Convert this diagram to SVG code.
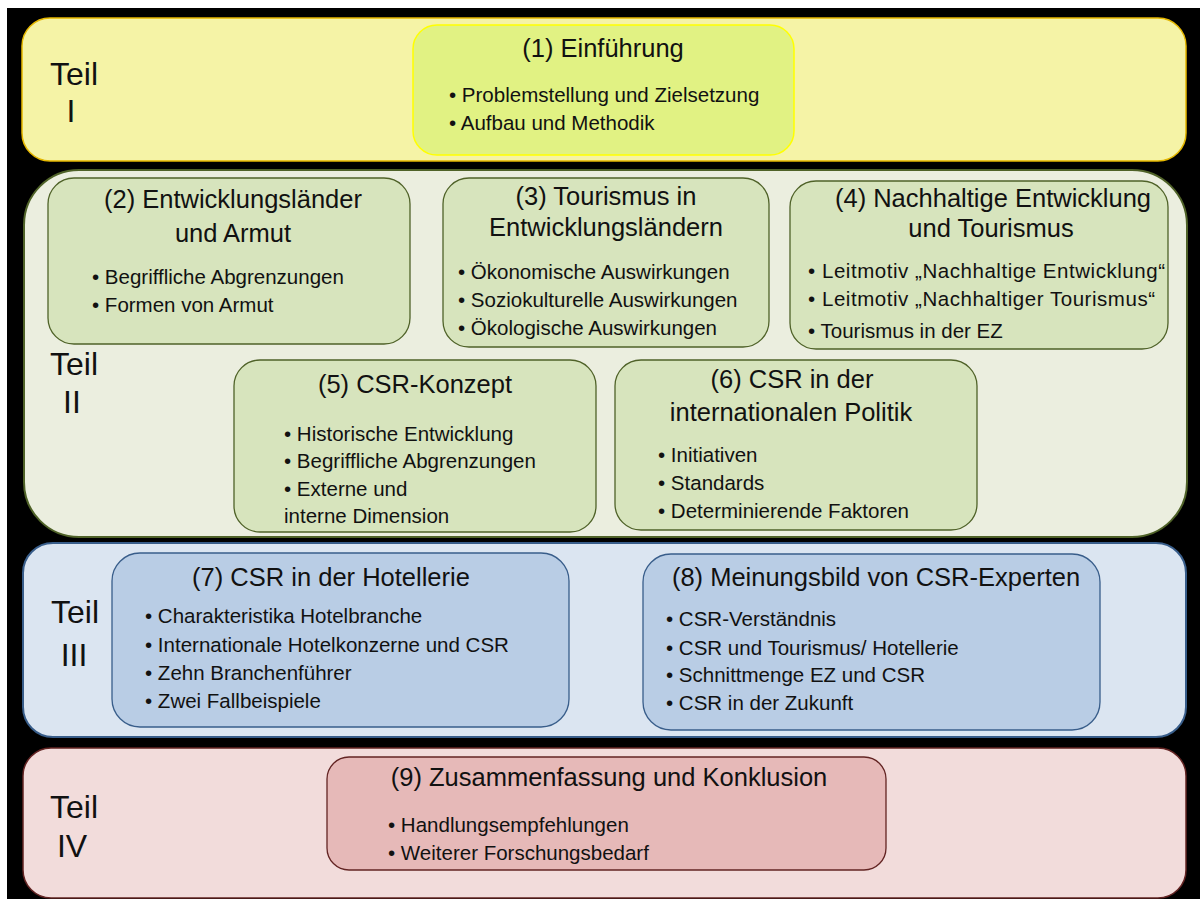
<svg xmlns="http://www.w3.org/2000/svg" width="1200" height="899" viewBox="0 0 1200 899">
<style>
.t{font-family:"Liberation Sans Narrow","Liberation Sans",Arial,sans-serif;fill:#111}
.ti{font-size:25.5px;text-anchor:middle}
.b{font-size:20.5px}
.teil{font-family:"Liberation Sans","DejaVu Sans",sans-serif;font-size:32px;fill:#111;text-anchor:middle}
</style>
<rect x="0" y="0" width="1200" height="899" fill="#ffffff"/>
<rect x="7" y="8" width="1193" height="891" fill="#000000"/>
<g id="band1">
<rect x="22" y="18" width="1164" height="143" rx="28" fill="#f5f3a6" stroke="#e6b800" stroke-width="1.5"/>
<text class="teil" x="74" y="85">Teil</text><text class="teil" x="71" y="122">I</text>
</g>
<g id="band2">
<rect x="24" y="170" width="1163" height="367" rx="55" fill="#ebeedf" stroke="#4f6228" stroke-width="2"/>
<text class="teil" x="74" y="375">Teil</text><text class="teil" x="72" y="413">II</text>
</g>
<g id="band3">
<rect x="23" y="543" width="1163" height="194" rx="30" fill="#dbe5f1" stroke="#385d8a" stroke-width="2"/>
<text class="teil" x="75" y="623">Teil</text><text class="teil" x="74" y="666">III</text>
</g>
<g id="band4">
<rect x="23" y="748" width="1163" height="150" rx="28" fill="#f2dcdb" stroke="#632423" stroke-width="1.5"/>
<text class="teil" x="74" y="818">Teil</text><text class="teil" x="72" y="857">IV</text>
</g>
<g id="n1">
<rect x="413" y="25" width="381" height="130" rx="24" fill="#e1f283" stroke="#ffff00" stroke-width="1.5"/>
<text class="t ti" x="603" y="57">(1) Einführung</text>
<text class="t b" x="449" y="102">• Problemstellung und Zielsetzung</text>
<text class="t b" x="449" y="130">• Aufbau und Methodik</text>
</g>
<g id="n2">
<rect x="48" y="178" width="362" height="166" rx="26" fill="#d7e4bd" stroke="#4f6228" stroke-width="1.3"/>
<text class="t ti" x="233" y="208">(2) Entwicklungsländer</text>
<text class="t ti" x="233" y="242">und Armut</text>
<text class="t b" x="92" y="284">• Begriffliche Abgrenzungen</text>
<text class="t b" x="92" y="312">• Formen von Armut</text>
</g>
<g id="n3">
<rect x="443" y="178" width="326" height="169" rx="26" fill="#d7e4bd" stroke="#4f6228" stroke-width="1.3"/>
<text class="t ti" x="606" y="205">(3) Tourismus in</text>
<text class="t ti" x="606" y="236">Entwicklungsländern</text>
<text class="t b" x="458" y="279">• Ökonomische Auswirkungen</text>
<text class="t b" x="458" y="307">• Soziokulturelle Auswirkungen</text>
<text class="t b" x="458" y="335">• Ökologische Auswirkungen</text>
</g>
<g id="n4">
<rect x="790" y="181" width="378" height="168" rx="26" fill="#d7e4bd" stroke="#4f6228" stroke-width="1.3"/>
<text class="t ti" x="993" y="207">(4) Nachhaltige Entwicklung</text>
<text class="t ti" x="991" y="237">und Tourismus</text>
<text class="t b" x="808" y="278" textLength="357" lengthAdjust="spacing">• Leitmotiv „Nachhaltige Entwicklung“</text>
<text class="t b" x="808" y="306" textLength="347" lengthAdjust="spacing">• Leitmotiv „Nachhaltiger Tourismus“</text>
<text class="t b" x="808" y="338">• Tourismus in der EZ</text>
</g>
<g id="n5">
<rect x="234" y="360" width="362" height="172" rx="26" fill="#d7e4bd" stroke="#4f6228" stroke-width="1.3"/>
<text class="t ti" x="415" y="393">(5) CSR-Konzept</text>
<text class="t b" x="284" y="441">• Historische Entwicklung</text>
<text class="t b" x="284" y="468">• Begriffliche Abgrenzungen</text>
<text class="t b" x="284" y="496">• Externe und</text>
<text class="t b" x="284" y="523">interne Dimension</text>
</g>
<g id="n6">
<rect x="615" y="360" width="362" height="170" rx="26" fill="#d7e4bd" stroke="#4f6228" stroke-width="1.3"/>
<text class="t ti" x="792" y="388">(6) CSR in der</text>
<text class="t ti" x="791" y="421">internationalen Politik</text>
<text class="t b" x="658" y="462">• Initiativen</text>
<text class="t b" x="658" y="490">• Standards</text>
<text class="t b" x="658" y="518">• Determinierende Faktoren</text>
</g>
<g id="n7">
<rect x="112" y="553" width="457" height="174" rx="28" fill="#b9cde5" stroke="#385d8a" stroke-width="1.3"/>
<text class="t ti" x="331" y="586">(7) CSR in der Hotellerie</text>
<text class="t b" x="145" y="623">• Charakteristika Hotelbranche</text>
<text class="t b" x="145" y="652">• Internationale Hotelkonzerne und CSR</text>
<text class="t b" x="145" y="680">• Zehn Branchenführer</text>
<text class="t b" x="145" y="708">• Zwei Fallbeispiele</text>
</g>
<g id="n8">
<rect x="643" y="554" width="457" height="176" rx="28" fill="#b9cde5" stroke="#385d8a" stroke-width="1.3"/>
<text class="t ti" x="876" y="586">(8) Meinungsbild von CSR-Experten</text>
<text class="t b" x="666" y="626">• CSR-Verständnis</text>
<text class="t b" x="666" y="655">• CSR und Tourismus/ Hotellerie</text>
<text class="t b" x="666" y="682">• Schnittmenge EZ und CSR</text>
<text class="t b" x="666" y="710">• CSR in der Zukunft</text>
</g>
<g id="n9">
<rect x="327" y="757" width="559" height="113" rx="22" fill="#e6b9b8" stroke="#632423" stroke-width="1.3"/>
<text class="t ti" x="609" y="786">(9) Zusammenfassung und Konklusion</text>
<text class="t b" x="388" y="832">• Handlungsempfehlungen</text>
<text class="t b" x="388" y="860">• Weiterer Forschungsbedarf</text>
</g>
<g id="connectors"></g>
</svg>
